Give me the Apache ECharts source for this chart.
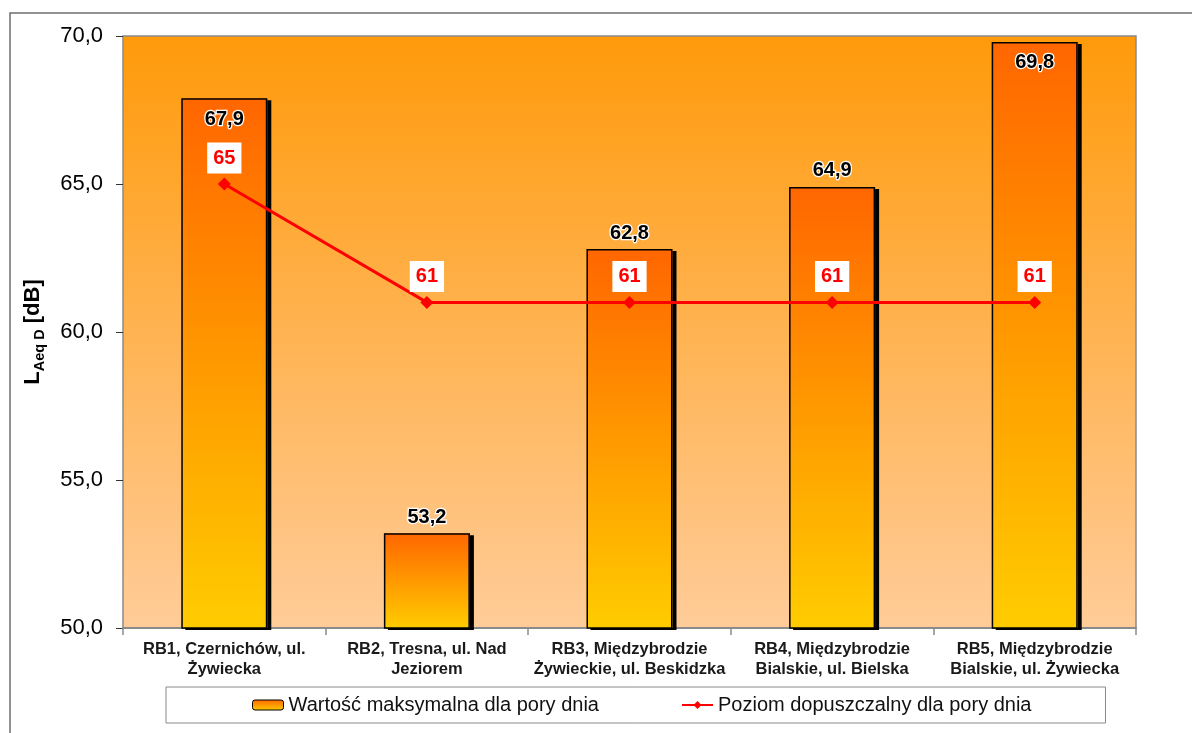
<!DOCTYPE html>
<html>
<head>
<meta charset="utf-8">
<script src="https://cdn.jsdelivr.net/npm/echarts@6/dist/echarts.min.js"></script>
<style>
html,body{margin:0;padding:0;background:#fff;}
#chart{width:1192px;height:733px;}
</style>
</head>
<body>
<div id="chart"></div>
<script>
// ---- data ----
var categories = [
  'RB1, Czernichów, ul.\nŻywiecka',
  'RB2, Tresna, ul. Nad\nJeziorem',
  'RB3, Międzybrodzie\nŻywieckie, ul. Beskidzka',
  'RB4, Międzybrodzie\nBialskie, ul. Bielska',
  'RB5, Międzybrodzie\nBialskie, ul. Żywiecka'
];
var maxValues = [67.9, 53.2, 62.8, 64.9, 69.8];
var limitValues = [65, 61, 61, 61, 61];
var distances = ['d = 18 m', 'd = 20 m', 'd = 7 m', 'd = 4 m', 'd = 7 m'];
var distanceLabelLevels = [58.1, 52.0, 57.2, 58.3, 59.05];
var yTicks = { min: 50, max: 70, interval: 5 };
var seriesNames = ['Wartość maksymalna dla pory dnia', 'Poziom dopuszczalny dla pory dnia'];

// ---- chart ----
var chart = echarts.init(document.getElementById('chart'), null, { renderer: 'canvas' });
var FONT = 'Liberation Sans, Arial, sans-serif';

function fmt(v) { return v.toFixed(1).replace('.', ','); }

var barGradient = new echarts.graphic.LinearGradient(0, 0, 0, 1, [
  { offset: 0, color: '#FF6600' },
  { offset: 1, color: '#FFCC00' }
]);

var barData = maxValues.map(function (v) {
  var nearTop = (yTicks.max - v) < 2.5;
  return {
    value: v,
    label: nearTop ? { position: 'insideTop', distance: 11 } : { position: 'top', distance: 6 }
  };
});

var distData = distanceLabelLevels.map(function (v, i) {
  return { value: [i, v], label: { formatter: distances[i] } };
});

var option = {
  backgroundColor: '#ffffff',
  animation: false,
  textStyle: { fontFamily: FONT },
  graphic: [{
    type: 'rect',
    shape: { x: 10, y: 13, width: 1200, height: 740 },
    style: { fill: 'none', stroke: '#6f6f6f', lineWidth: 1.5 },
    z: -10
  }],
  grid: {
    left: 123, right: 56, top: 36, bottom: 105,
    show: true,
    borderColor: '#8a8a8a',
    borderWidth: 1.5,
    backgroundColor: new echarts.graphic.LinearGradient(0, 0, 0, 1, [
      { offset: 0, color: '#FF9A0A' },
      { offset: 1, color: '#FFCC99' }
    ])
  },
  legend: {
    data: [
      { name: seriesNames[0], itemStyle: { borderColor: '#000', borderWidth: 1 } },
      { name: seriesNames[1] }
    ],
    left: 166,
    top: 687,
    padding: [8, 74, 8, 86],
    itemGap: 82,
    itemWidth: 31,
    itemHeight: 10,
    borderColor: '#8a8a8a',
    borderWidth: 1,
    borderRadius: 0,
    backgroundColor: '#ffffff',
    textStyle: { fontFamily: FONT, fontSize: 20, color: '#111' }
  },
  xAxis: {
    type: 'category',
    data: categories,
    axisLine: { lineStyle: { color: '#8a8a8a', width: 2 } },
    axisTick: { show: true, length: 7, lineStyle: { color: '#8a8a8a', width: 1.5 } },
    axisLabel: {
      interval: 0,
      margin: 11,
      fontFamily: FONT,
      fontSize: 16.5,
      fontWeight: 'bold',
      color: '#1a1a1a',
      lineHeight: 20
    }
  },
  yAxis: {
    type: 'value',
    min: yTicks.min, max: yTicks.max, interval: yTicks.interval,
    splitLine: { show: false },
    axisLine: { show: false },
    axisTick: { show: true, length: 7, lineStyle: { color: '#333', width: 1 } },
    axisLabel: {
      fontFamily: FONT, fontSize: 22, color: '#000', margin: 20,
      formatter: function (v) { return fmt(v); }
    },
    name: '{L|L}{s|Aeq D}{L| [dB]}',
    nameLocation: 'middle',
    nameGap: 76,
    nameRotate: 90,
    nameTextStyle: {
      rich: {
        L: { fontFamily: FONT, fontSize: 22, fontWeight: 'bold', color: '#000', lineHeight: 28 },
        s: { fontFamily: FONT, fontSize: 14.5, fontWeight: 'bold', color: '#000', verticalAlign: 'bottom', lineHeight: 16 }
      }
    }
  },
  series: [
    {
      name: seriesNames[0],
      type: 'bar',
      data: barData,
      barWidth: 86,
      barGap: '-100%',
      itemStyle: {
        color: barGradient,
        borderWidth: 0,
        shadowColor: '#000',
        shadowBlur: 0,
        shadowOffsetX: 4,
        shadowOffsetY: 2
      },
      label: {
        show: true,
        formatter: function (p) { return fmt(p.value); },
        fontFamily: FONT,
        fontSize: 20,
        fontWeight: 'bold',
        color: '#000',
        textBorderColor: '#fff',
        textBorderWidth: 2.5
      },
      z: 2
    },
    {
      name: 'outline',
      type: 'bar',
      data: maxValues,
      barWidth: 86,
      barGap: '-100%',
      itemStyle: {
        color: 'rgba(0,0,0,0)',
        borderColor: '#000',
        borderWidth: 1.5
      },
      silent: true,
      z: 3
    },
    {
      name: seriesNames[1],
      type: 'line',
      data: limitValues,
      symbol: 'diamond',
      symbolSize: 13,
      lineStyle: { color: '#FF0000', width: 3 },
      itemStyle: { color: '#FF0000' },
      label: {
        show: true,
        position: 'top',
        distance: 4,
        fontFamily: FONT,
        fontSize: 20,
        fontWeight: 'bold',
        color: '#FF0000',
        backgroundColor: '#ffffff',
        padding: [6, 6, 5, 6]
      },
      z: 5
    },
    {
      name: 'distances',
      type: 'scatter',
      data: distData,
      symbolSize: 1,
      itemStyle: { opacity: 0 },
      label: {
        show: true,
        position: 'inside',
        fontFamily: FONT,
        fontSize: 12.5,
        fontWeight: 'bold',
        color: '#000'
      },
      silent: true,
      z: 4
    }
  ]
};

chart.setOption(option);
</script>
</body>
</html>
